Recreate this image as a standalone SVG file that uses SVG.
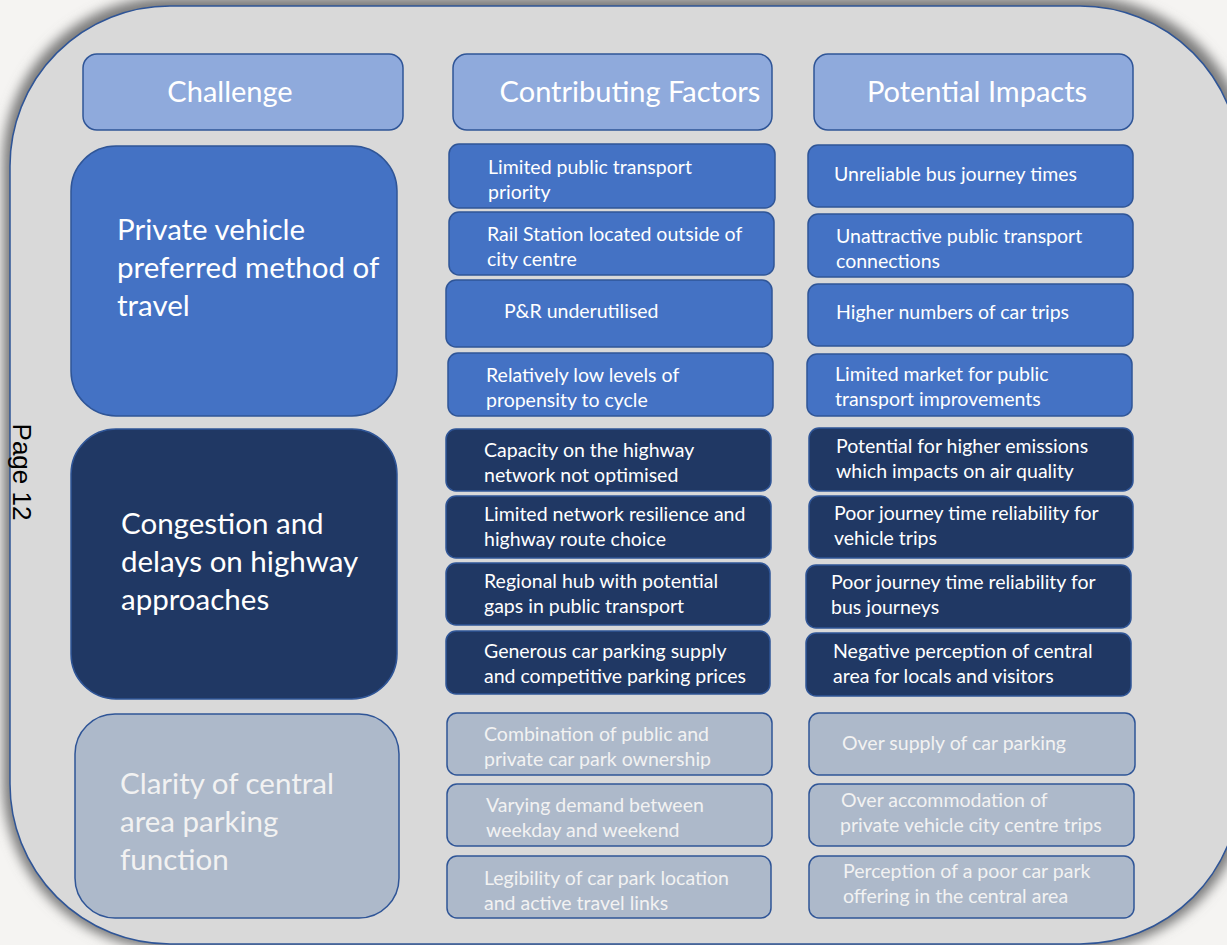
<svg xmlns="http://www.w3.org/2000/svg" width="1227" height="945" viewBox="0 0 1227 945">
<defs>
<filter id="sh" x="-10%" y="-10%" width="120%" height="120%"><feGaussianBlur stdDeviation="6"/></filter>
<style>
.hdr{fill:#8faadc;stroke:#2f5597;stroke-width:1.5}
.b1{fill:#4472c4;stroke:#2f5597;stroke-width:1.5}
.b2{fill:#203864;stroke:#2f5597;stroke-width:1.5}
.b3{fill:#adb9ca;stroke:#2f5597;stroke-width:1.5}
text{font-family:Lato,"Open Sans",sans-serif;fill:#ffffff}
.h{font-size:29px}
.c{font-size:29.5px}
.s{font-size:19.5px}
.l{fill:#f2f2f2}
</style>
</defs>
<rect x="0" y="0" width="1227" height="945" fill="#f5f4f2"/>
<rect x="3" y="-3" width="1245" height="952" rx="165" fill="#7a7a7a" filter="url(#sh)"/>
<rect id="frame" x="10" y="6" width="1230" height="938" rx="160" fill="#d9d9d9" stroke="#2f5597" stroke-width="1.5"/>
<text x="22" y="472" transform="rotate(90 22 472)" text-anchor="middle" dominant-baseline="central" style="font-family:'Liberation Sans',Arial,sans-serif;font-size:26px;fill:#000">Page 12</text>

<g id="hdr-challenge"><rect class="hdr" x="83" y="54" width="320" height="76" rx="14"/><text class="h" x="230" y="102" text-anchor="middle">Challenge</text></g>
<g id="hdr-factors"><rect class="hdr" x="453" y="54" width="319" height="76" rx="14"/><text class="h" x="630" y="102" text-anchor="middle">Contributing Factors</text></g>
<g id="hdr-impacts"><rect class="hdr" x="814" y="54" width="319" height="76" rx="14"/><text class="h" x="977" y="102" text-anchor="middle">Potential Impacts</text></g>

<g id="ch1"><rect class="b1" x="71" y="146" width="326" height="270" rx="45"/><text class="c" x="117" y="240">Private vehicle</text><text class="c" x="117" y="278">preferred method of</text><text class="c" x="117" y="316">travel</text></g>
<g id="ch2"><rect class="b2" x="71" y="429" width="326" height="270" rx="45"/><text class="c" x="121" y="534">Congestion and</text><text class="c" x="121" y="572">delays on highway</text><text class="c" x="121" y="610">approaches</text></g>
<g id="ch3"><rect class="b3" x="75" y="714" width="324" height="204" rx="40"/><text class="c l" x="120" y="794">Clarity of central</text><text class="c l" x="120" y="832">area parking</text><text class="c l" x="120" y="870">function</text></g>

<g id="f1"><rect class="b1" x="449" y="144" width="326" height="64" rx="10"/><text class="s" x="488" y="174">Limited public transport</text><text class="s" x="488" y="199">priority</text></g>
<g id="f2"><rect class="b1" x="449" y="212" width="325" height="63" rx="10"/><text class="s" x="487" y="241">Rail Station located outside of</text><text class="s" x="487" y="266">city centre</text></g>
<g id="f3"><rect class="b1" x="446" y="280" width="326" height="67" rx="10"/><text class="s" x="504" y="318">P&amp;R underutilised</text></g>
<g id="f4"><rect class="b1" x="448" y="353" width="325" height="63" rx="10"/><text class="s" x="486" y="382">Relatively low levels of</text><text class="s" x="486" y="407">propensity to cycle</text></g>
<g id="f5"><rect class="b2" x="446" y="429" width="325" height="62" rx="10"/><text class="s" x="484" y="457">Capacity on the highway</text><text class="s" x="484" y="482">network not optimised</text></g>
<g id="f6"><rect class="b2" x="446" y="496" width="325" height="62" rx="10"/><text class="s" x="484" y="521">Limited network resilience and</text><text class="s" x="484" y="546">highway route choice</text></g>
<g id="f7"><rect class="b2" x="446" y="563" width="324" height="62" rx="10"/><text class="s" x="484" y="588">Regional hub with potential</text><text class="s" x="484" y="613">gaps in public transport</text></g>
<g id="f8"><rect class="b2" x="446" y="631" width="324" height="63" rx="10"/><text class="s" x="484" y="658">Generous car parking supply</text><text class="s" x="484" y="683">and competitive parking prices</text></g>
<g id="f9"><rect class="b3" x="447" y="713" width="325" height="62" rx="10"/><text class="s l" x="484" y="741">Combination of public and</text><text class="s l" x="484" y="766">private car park ownership</text></g>
<g id="f10"><rect class="b3" x="447" y="784" width="325" height="62" rx="10"/><text class="s l" x="486" y="812">Varying demand between</text><text class="s l" x="486" y="837">weekday and weekend</text></g>
<g id="f11"><rect class="b3" x="447" y="856" width="324" height="62" rx="10"/><text class="s l" x="484" y="885">Legibility of car park location</text><text class="s l" x="484" y="910">and active travel links</text></g>

<g id="i1"><rect class="b1" x="808" y="145" width="325" height="62" rx="10"/><text class="s" x="834" y="181">Unreliable bus journey times</text></g>
<g id="i2"><rect class="b1" x="808" y="214" width="325" height="63" rx="10"/><text class="s" x="836" y="243">Unattractive public transport</text><text class="s" x="836" y="268">connections</text></g>
<g id="i3"><rect class="b1" x="808" y="284" width="325" height="62" rx="10"/><text class="s" x="836" y="319">Higher numbers of car trips</text></g>
<g id="i4"><rect class="b1" x="807" y="354" width="325" height="62" rx="10"/><text class="s" x="835" y="381">Limited market for public</text><text class="s" x="835" y="406">transport improvements</text></g>
<g id="i5"><rect class="b2" x="809" y="428" width="324" height="63" rx="10"/><text class="s" x="836" y="453">Potential for higher emissions</text><text class="s" x="836" y="478">which impacts on air quality</text></g>
<g id="i6"><rect class="b2" x="809" y="496" width="324" height="62" rx="10"/><text class="s" x="834" y="520">Poor journey time reliability for</text><text class="s" x="834" y="545">vehicle trips</text></g>
<g id="i7"><rect class="b2" x="806" y="565" width="325" height="63" rx="10"/><text class="s" x="831" y="589">Poor journey time reliability for</text><text class="s" x="831" y="614">bus journeys</text></g>
<g id="i8"><rect class="b2" x="806" y="633" width="325" height="63" rx="10"/><text class="s" x="833" y="658">Negative perception of central</text><text class="s" x="833" y="683">area for locals and visitors</text></g>
<g id="i9"><rect class="b3" x="809" y="713" width="326" height="62" rx="10"/><text class="s l" x="842" y="750">Over supply of car parking</text></g>
<g id="i10"><rect class="b3" x="809" y="784" width="325" height="62" rx="10"/><text class="s l" x="841" y="807">Over accommodation of</text><text class="s l" x="840" y="832">private vehicle city centre trips</text></g>
<g id="i11"><rect class="b3" x="809" y="856" width="325" height="62" rx="10"/><text class="s l" x="843" y="878">Perception of a poor car park</text><text class="s l" x="843" y="903">offering in the central area</text></g>

<g id="connectors"></g>
</svg>
